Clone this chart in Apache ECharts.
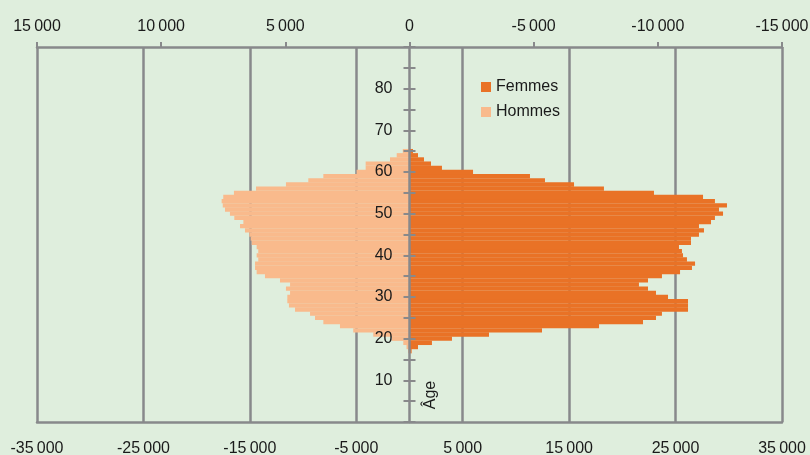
<!DOCTYPE html>
<html><head><meta charset="utf-8">
<script src="https://cdn.jsdelivr.net/npm/echarts/dist/echarts.min.js"></script>
<style>html,body{margin:0;padding:0;background:#DFEEDD}#c{width:810px;height:455px}</style>
</head><body><div id="c"></div>
<script>
// Ages (one bar per year of age)
const ages = [17,18,19,20,21,22,23,24,25,26,27,28,29,30,31,32,33,34,35,36,37,38,39,40,41,
  42,43,44,45,46,47,48,49,50,51,52,53,54,55,56,57,58,59,60,61,62,63,64,65];
// Femmes (bottom axis)
const femmes = [200,800,2110,3990,7470,12450,17810,21940,23160,23720,26170,26170,26170,24290,23160,
  22410,21560,22410,23720,25420,26540,26830,26070,25700,25600,25320,26450,26450,27200,27670,27200,
  28330,28700,29460,29080,29830,28700,27580,22970,18270,15460,12730,11320,5970,3050,2020,1360,800,330];
// Hommes (top axis, reversed)
const hommes = [60,120,250,720,1460,2265,2800,3470,3805,4005,4610,4855,4920,4920,4810,4975,4810,5215,
  5820,6155,6220,6220,6090,6155,6090,6155,6355,6395,6450,6625,6825,6690,7055,7230,7430,7520,7565,7500,
  7070,6180,4975,4075,3470,2130,1765,1765,785,515,270];
const seriesNames = ['Femmes','Hommes'];
const bottomTicks = {min:-35000, max:35000, step:10000};
const topTicks = {min:-15000, max:15000, step:5000};
const ageRange = {min:0, max:90, tickStep:5, labelStep:10};
const ageLabel = 'Âge';

const ageCats = [];
for (let a = ageRange.min; a <= ageRange.max; a++) ageCats.push(String(a));

const W = 810;
const GRID = {left:37, right:28, top:47, bottom:33};
// place the age axis on the value 0 of the bottom axis
const plotW = W - GRID.left - GRID.right;
const zeroShift = plotW * (0 - bottomTicks.min) / (bottomTicks.max - bottomTicks.min);

const GRAY = '#88898B', TXT = '#1A1A1A', FONT = '"Liberation Sans", Arial, sans-serif';
const FS = 16;
const C_F = '#E97226', C_H = '#F9BA8C';
function fmt(v){
  const s = String(Math.abs(v)).replace(/\B(?=(\d{3})+(?!\d))/g, '\u2009');
  return (v < 0 ? '-' : '') + s;
}
const chart = echarts.init(document.getElementById('c'));
chart.setOption({
  animation:false,
  backgroundColor:'#DFEEDD',
  textStyle:{fontFamily:FONT},
  grid:Object.assign({containLabel:false, outerBoundsMode:'none'}, GRID),
  legend:{orient:'vertical', left:481, top:79, padding:0, itemWidth:10, itemHeight:10, itemGap:9,
    icon:'rect', data:seriesNames, textStyle:{fontSize:FS, color:TXT, fontFamily:FONT}},
  xAxis:[
    {type:'value', position:'bottom', min:bottomTicks.min, max:bottomTicks.max, interval:bottomTicks.step,
     axisLine:{show:true, onZero:false, lineStyle:{color:GRAY, width:2.5}},
     axisTick:{show:false},
     splitLine:{show:true, lineStyle:{color:GRAY, width:2.5}},
     axisLabel:{margin:19, formatter:fmt, fontSize:FS, color:TXT, fontFamily:FONT}},
    {type:'value', position:'top', inverse:true, min:topTicks.min, max:topTicks.max, interval:topTicks.step,
     axisLine:{show:true, onZero:false, lineStyle:{color:GRAY, width:2.5}},
     axisTick:{show:true, length:5, lineStyle:{color:GRAY, width:2}},
     splitLine:{show:false},
     axisLabel:{margin:12, formatter:fmt, fontSize:FS, color:TXT, fontFamily:FONT}}
  ],
  yAxis:[
    {type:'category', data:ageCats, boundaryGap:false, position:'left', offset:-zeroShift, zlevel:1, z:10,
     axisLine:{show:true, onZero:false, lineStyle:{color:GRAY, width:2.5}},
     axisTick:{show:true, length:6, interval:ageRange.tickStep-1, lineStyle:{color:GRAY, width:2}},
     splitLine:{show:false},
     axisLabel:{margin:17, fontSize:FS, color:TXT, fontFamily:FONT, interval:0,
       formatter:v => { const n = +v; return (n % ageRange.labelStep === 0 && n > ageRange.min && n < ageRange.max) ? v : ''; }}},
    {type:'category', data:ageCats, boundaryGap:false, position:'right', offset:-(plotW - zeroShift), zlevel:1, z:10,
     axisLine:{show:false, onZero:false},
     axisTick:{show:true, length:6, interval:ageRange.tickStep-1, lineStyle:{color:GRAY, width:2}},
     splitLine:{show:false}, axisLabel:{show:false}}
  ],
  graphic:[{type:'text', x:431, y:395, rotation:Math.PI/2, z:20, zlevel:1,
    style:{text:ageLabel, align:'center', verticalAlign:'middle', fontSize:FS, fill:TXT, fontFamily:FONT}}],
  series:[
    {name:seriesNames[0], type:'bar', xAxisIndex:0, yAxisIndex:0, barWidth:4.4, barGap:'-100%',
     itemStyle:{color:C_F}, data:ages.map((a,i)=>[femmes[i], String(a)])},
    {name:seriesNames[1], type:'bar', xAxisIndex:1, yAxisIndex:0, barWidth:4.4, barGap:'-100%',
     itemStyle:{color:C_H}, data:ages.map((a,i)=>[hommes[i], String(a)])}
  ]
});
</script></body></html>
